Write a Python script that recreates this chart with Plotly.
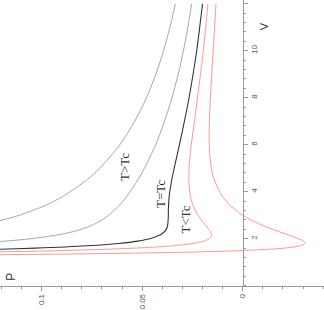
import plotly.graph_objects as go

# Van der Waals isotherms (V, P)
v_t075 = [1.3, 1.35, 1.4, 1.45, 1.5, 1.55, 1.6, 1.7, 1.8, 1.9, 2.0, 2.2, 2.4, 2.6, 2.8, 3.0, 3.4, 3.8, 4.5, 5.0, 5.5, 6.0, 7.0, 8.0, 9.0, 10.0, 11.0, 12.0]
p_t075 = [0.1490, 0.0862, 0.0454, 0.0182, 0.0000, -0.0122, -0.0203, -0.0286, -0.0309, -0.0301, -0.0278, -0.0214, -0.0149, -0.0090, -0.0041, 0.0000, 0.0061, 0.0101, 0.0141, 0.0156, 0.0163, 0.0167, 0.0166, 0.0161, 0.0154, 0.0147, 0.0140, 0.0133]

v_t090 = [1.35, 1.4, 1.45, 1.5, 1.6, 1.7, 1.8, 1.9, 2.0, 2.1, 2.2, 2.3, 2.4, 2.6, 2.8, 3.0, 3.4, 3.8, 4.5, 5.0, 6.0, 7.0, 8.0, 9.0, 10.0, 11.0, 12.0]
p_t090 = [0.2132, 0.1565, 0.1170, 0.0889, 0.0538, 0.0349, 0.0247, 0.0193, 0.0167, 0.0157, 0.0156, 0.0161, 0.0169, 0.0187, 0.0206, 0.0222, 0.0246, 0.0260, 0.0268, 0.0267, 0.0256, 0.0240, 0.0225, 0.0210, 0.0196, 0.0184, 0.0173]

v_tc = [1.4, 1.45, 1.5, 1.55, 1.6, 1.7, 1.8, 1.9, 2.0, 2.2, 2.4, 2.6, 2.8, 3.0, 3.2, 3.4, 3.8, 4.5, 5.0, 6.0, 7.0, 8.0, 9.0, 10.0, 11.0, 12.0]
p_tc = [0.2305, 0.1828, 0.1481, 0.1225, 0.1032, 0.0773, 0.0617, 0.0522, 0.0463, 0.0403, 0.0380, 0.0373, 0.0371, 0.0370, 0.0370, 0.0369, 0.0366, 0.0353, 0.0341, 0.0315, 0.0290, 0.0267, 0.0247, 0.0229, 0.0214, 0.0200]

v_t120 = [1.6, 1.7, 1.8, 1.9, 2.0, 2.2, 2.4, 2.6, 2.8, 3.0, 3.4, 3.8, 4.5, 5.0, 6.0, 7.0, 8.0, 9.0, 10.0, 11.0, 12.0]
p_t120 = [0.2020, 0.1619, 0.1358, 0.1181, 0.1056, 0.0897, 0.0804, 0.0743, 0.0700, 0.0667, 0.0616, 0.0577, 0.0522, 0.0489, 0.0433, 0.0389, 0.0352, 0.0321, 0.0295, 0.0273, 0.0254]

v_t150 = [2.2, 2.4, 2.6, 2.8, 3.0, 3.4, 3.8, 4.5, 5.0, 6.0, 7.0, 8.0, 9.0, 10.0, 11.0, 12.0]
p_t150 = [0.1638, 0.1439, 0.1298, 0.1194, 0.1111, 0.0987, 0.0895, 0.0776, 0.0711, 0.0611, 0.0537, 0.0479, 0.0432, 0.0394, 0.0362, 0.0335]

p_ticks = [0, 0.05, 0.1]
p_ticktext = ["0", "0.05", "0.1"]
v_ticks = [2, 4, 6, 8, 10, 12]

labels = ["T>Tc", "T=Tc", "T<Tc"]
label_p = [0.0591, 0.0412, 0.0287]
label_v = [5.05, 3.9, 2.82]

fig = go.Figure()
curves = [
    (v_t150, p_t150, "#9c9c9c", 0.9),
    (v_t120, p_t120, "#9c9c9c", 0.9),
    (v_tc, p_tc, "#333333", 1.1),
    (v_t090, p_t090, "#ff8a8a", 0.9),
    (v_t075, p_t075, "#ff8a8a", 0.9),
]
for v, p, c, w in curves:
    fig.add_trace(go.Scatter(x=p, y=v, mode="lines",
                             line=dict(color=c, width=w, shape="spline", smoothing=0.8),
                             showlegend=False, hoverinfo="skip"))

for t, p, v in zip(labels, label_p, label_v):
    fig.add_annotation(x=p, y=v, text=t, showarrow=False, textangle=-90,
                       xanchor="center", yanchor="middle",
                       font=dict(family="Liberation Serif", size=13, color="#333"))

fig.add_annotation(xref="paper", yref="paper", x=264/324, y=1-27/310, text="V",
                   showarrow=False, textangle=-90, xanchor="center", yanchor="middle",
                   font=dict(family="Liberation Sans", size=11, color="#333"))
fig.add_annotation(xref="paper", yref="paper", x=11.5/324, y=1-285.5/310, text="P",
                   showarrow=False, textangle=-90, xanchor="center", yanchor="middle",
                   font=dict(family="Liberation Sans", size=12, color="#333"))

axis_col = "#9a9a9a"
fig.update_layout(
    width=324, height=310,
    margin=dict(l=0, r=0, t=0, b=0),
    plot_bgcolor="white", paper_bgcolor="white",
    xaxis=dict(range=[0.1207, -0.0404], domain=[0, 1], anchor="y",
               showgrid=False, zeroline=False, showline=True, linecolor=axis_col, linewidth=1,
               tickmode="array", tickvals=p_ticks, ticktext=p_ticktext,
               ticks="outside", ticklen=4, tickcolor=axis_col, tickangle=-90,
               tickfont=dict(family="Liberation Sans", size=8, color="#555"),
               minor=dict(tickmode="linear", tick0=0, dtick=0.01, ticks="outside",
                          ticklen=2, tickcolor=axis_col)),
    yaxis=dict(range=[0, 12.16], domain=[15.7/310, 1], anchor="free", position=242.7/324,
               side="right",
               showgrid=False, zeroline=False, showline=True, linecolor=axis_col, linewidth=1,
               tickmode="array", tickvals=v_ticks,
               ticks="outside", ticklen=4, tickcolor=axis_col, tickangle=-90,
               tickfont=dict(family="Liberation Sans", size=8, color="#555"),
               minor=dict(tickmode="linear", tick0=0, dtick=0.4, ticks="outside",
                          ticklen=2, tickcolor=axis_col)),
)

fig.write_html("out.html", config={"displayModeBar": False, "staticPlot": True},
               post_script="document.body.style.margin='0';document.body.style.overflow='hidden';")
